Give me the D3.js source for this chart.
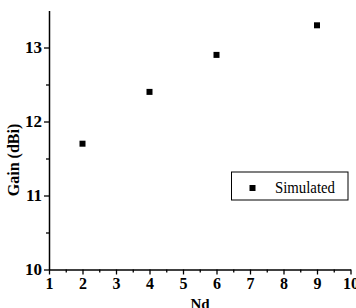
<!DOCTYPE html>
<html>
<head>
<meta charset="utf-8">
<script src="https://cdn.jsdelivr.net/npm/d3@7.9.0/dist/d3.min.js"></script>
<style>
  body { margin: 0; background: #fff; }
  svg { display: block; }
</style>
</head>
<body>
<svg id="chart" width="356" height="308"></svg>
<script>
// Data
const nd = [2, 4, 6, 9];
const gain = [11.7, 12.4, 12.9, 13.3];
const xTicks = [1, 2, 3, 4, 5, 6, 7, 8, 9, 10];
const yTicks = [10, 11, 12, 13];
const seriesName = "Simulated";

const svg = d3.select("#chart");
const serif = "'Liberation Serif', 'Times New Roman', serif";

// scales
const x = d3.scaleLinear().domain([1, 10]).range([49, 350.5]);
const y = d3.scaleLinear().domain([10, 13.5]).range([269.5, 10.5]);

// minor ticks (half steps)
const xMinor = d3.range(1.5, 10, 1);
const yMinor = d3.range(10.5, 13.5, 1);

// x axis
const gx = svg.append("g").attr("transform", `translate(0,${y(10)})`);
gx.call(d3.axisBottom(x).tickValues(xMinor).tickSize(3).tickFormat(""))
  .call(g => g.select(".domain").remove());
gx.append("g")
  .call(d3.axisBottom(x).tickValues(xTicks).tickSize(5).tickSizeOuter(0)
    .tickPadding(3).tickFormat(d3.format("d")));
gx.selectAll("text")
  .attr("fill", "#000")
  .style("font-family", serif)
  .style("font-size", "16px")
  .style("font-weight", "bold");
gx.selectAll("line").attr("stroke", "#000").attr("stroke-width", 1.3);
gx.selectAll(".domain").attr("stroke", "#000").attr("stroke-width", 1.5);

// y axis
const gy = svg.append("g").attr("transform", `translate(${x(1)},0)`);
gy.call(d3.axisLeft(y).tickValues(yMinor).tickSize(3).tickFormat(""))
  .call(g => g.select(".domain").remove());
gy.append("g")
  .call(d3.axisLeft(y).tickValues(yTicks).tickSize(5).tickSizeOuter(0)
    .tickPadding(2).tickFormat(d3.format("d")));
gy.selectAll("text")
  .attr("fill", "#000")
  .style("font-family", serif)
  .style("font-size", "17px")
  .style("font-weight", "bold");
gy.selectAll("line").attr("stroke", "#000").attr("stroke-width", 1.3);
gy.selectAll(".domain").attr("stroke", "#000").attr("stroke-width", 1.5);

// axis titles
svg.append("text")
  .attr("transform", "translate(18.5,160) rotate(-90)")
  .attr("text-anchor", "middle")
  .style("font-family", serif)
  .style("font-size", "16px")
  .style("font-weight", "bold")
  .text("Gain (dBi)");

svg.append("text")
  .attr("x", 200)
  .attr("y", 309)
  .attr("text-anchor", "middle")
  .style("font-family", serif)
  .style("font-size", "15px")
  .style("font-weight", "bold")
  .text("Nd");

// points
const sq = 6;
svg.append("g")
  .selectAll("rect")
  .data(nd.map((d, i) => ({ x: d, y: gain[i] })))
  .join("rect")
  .attr("x", d => x(d.x) - sq / 2)
  .attr("y", d => y(d.y) - sq / 2)
  .attr("width", sq)
  .attr("height", sq)
  .attr("fill", "#000");

// legend
const legend = svg.append("g").attr("transform", "translate(231.5,172)");
legend.append("rect")
  .attr("width", 116.5)
  .attr("height", 28)
  .attr("fill", "#fff")
  .attr("stroke", "#000")
  .attr("stroke-width", 1);
legend.append("rect")
  .attr("x", 21 - sq / 2)
  .attr("y", 16 - sq / 2)
  .attr("width", sq)
  .attr("height", sq)
  .attr("fill", "#000");
legend.append("text")
  .attr("x", 43.5)
  .attr("y", 20.5)
  .attr("textLength", 60)
  .attr("lengthAdjust", "spacingAndGlyphs")
  .style("font-family", serif)
  .style("font-size", "16px")
  .text(seriesName);
</script>
</body>
</html>
